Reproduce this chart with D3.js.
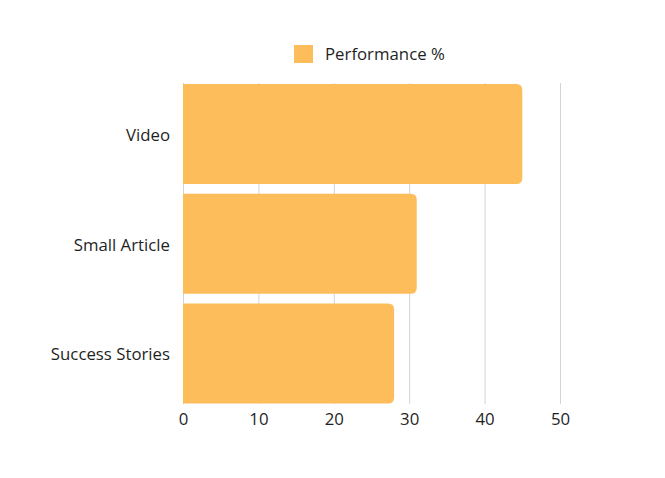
<!DOCTYPE html>
<html>
<head>
<meta charset="utf-8">
<script src="https://cdn.jsdelivr.net/npm/d3@7"></script>
<style>
  body { margin: 0; background: #fff; }
  svg { display: block; font-family: "Open Sans", sans-serif; }
</style>
</head>
<body>
<svg id="chart" width="665" height="478"></svg>
<script>
// chart values
var categories = ["Video", "Small Article", "Success Stories"];
var performance = [45, 31, 28];
var seriesName = "Performance %";
var xTicks = [0, 10, 20, 30, 40, 50];

var barColor = "#fdbd5a";
var gridColor = "#d4d4d4";
var textColor = "#1f1f1f";
var fontSize = "16.8px";

var svg = d3.select("#chart");

var x = d3.scaleLinear().domain([0, 50]).range([183, 560]);
var y = d3.scaleBand().domain(categories).range([84, 403.5]).paddingInner(0.09).paddingOuter(0);

// grid lines
svg.append("g")
    .selectAll("line")
    .data(xTicks)
    .enter()
    .append("line")
    .attr("x1", function (d) { return x(d) + 0.5; })
    .attr("x2", function (d) { return x(d) + 0.5; })
    .attr("y1", 83)
    .attr("y2", 404)
    .attr("stroke", gridColor)
    .attr("stroke-width", 1);

// bars: square on the left, rounded on the right
var r = 6;
function barPath(x0, x1, y0, h) {
    var rr = Math.min(r, (x1 - x0) / 2);
    return "M" + x0 + "," + y0 +
        "H" + (x1 - rr) +
        "Q" + x1 + "," + y0 + " " + x1 + "," + (y0 + rr) +
        "V" + (y0 + h - rr) +
        "Q" + x1 + "," + (y0 + h) + " " + (x1 - rr) + "," + (y0 + h) +
        "H" + x0 + "Z";
}

svg.append("g")
    .selectAll("path")
    .data(categories)
    .enter()
    .append("path")
    .attr("d", function (d, i) {
        return barPath(x(0), x(performance[i]), y(d), y.bandwidth());
    })
    .attr("fill", barColor);

// category labels
var yAxis = d3.axisLeft(y).tickSize(0).tickPadding(0);
svg.append("g")
    .attr("transform", "translate(170,1.5)")
    .call(yAxis)
    .call(function (g) { g.select(".domain").remove(); })
    .selectAll("text")
    .attr("fill", textColor)
    .style("font-size", fontSize)
    .style("font-family", "\"Open Sans\", sans-serif");

// x tick labels
var xAxis = d3.axisBottom(x).tickValues(xTicks).tickSize(0).tickPadding(0);
svg.append("g")
    .attr("transform", "translate(0,413)")
    .call(xAxis)
    .call(function (g) { g.select(".domain").remove(); })
    .selectAll("text")
    .attr("fill", textColor)
    .style("font-size", fontSize)
    .style("font-family", "\"Open Sans\", sans-serif");

// legend
var legend = svg.append("g").attr("transform", "translate(294,45)");
legend.append("rect")
    .attr("width", 19)
    .attr("height", 18)
    .attr("fill", barColor);
legend.append("text")
    .attr("x", 31)
    .attr("y", 9)
    .attr("dy", "0.35em")
    .attr("fill", textColor)
    .style("font-size", fontSize)
    .text(seriesName);
</script>
</body>
</html>
